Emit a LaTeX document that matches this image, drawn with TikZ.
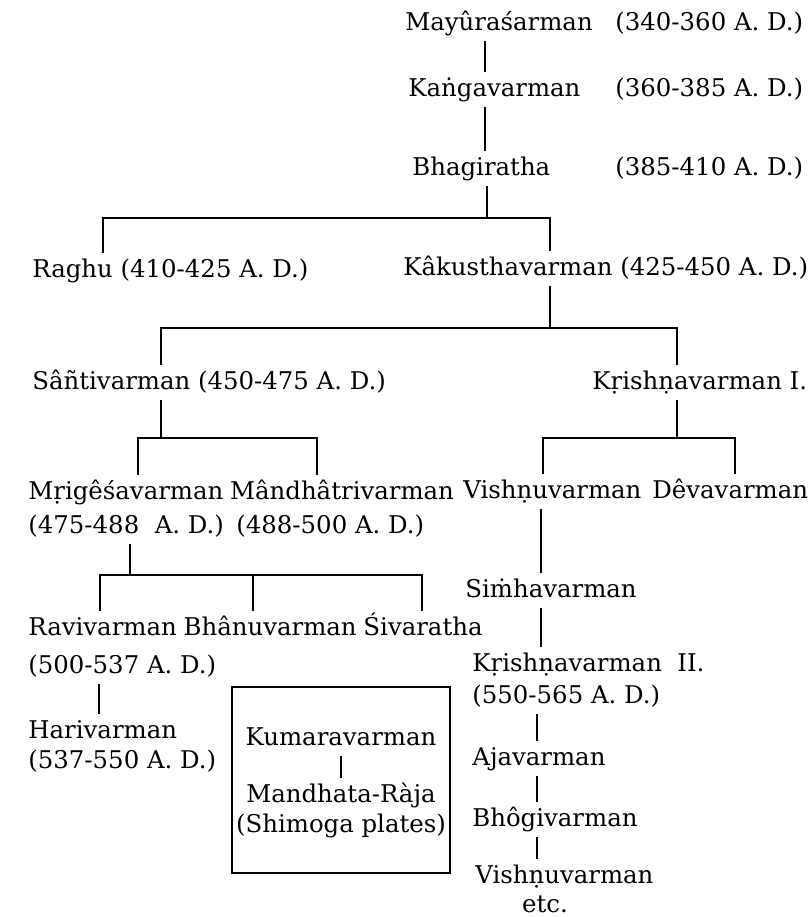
\documentclass[tikz,border=0pt]{standalone}
\usepackage{fontspec}
\setmainfont{DejaVu Serif}
\usetikzlibrary{calc}

\tikzset{
  ruler/.style={anchor=base west, inner xsep=0pt, inner ysep=3pt, text height=9pt, text depth=2.5pt, font=\fontsize{12.2}{14}\selectfont},
  rulerc/.style={ruler, anchor=base},
  lineage/.style={line width=1.1pt},
}

\begin{document}
\begin{tikzpicture}[x=0.5pt, y=-0.5pt]
			\useasboundingbox (0,0) rectangle (811,917);
			
			%%%%% NAMES %%%%%
			\node[ruler] (mayura) at (405,30) {Mayûraśarman};
			\node[ruler] (mayuraD) at (615,30) {(340-360 A. D.)};
			\node[ruler] (kanga) at (408,96) {Kaṅgavarman};
			\node[ruler] (kangaD) at (615,96) {(360-385 A. D.)};
			\node[ruler] (bhag) at (412,175) {Bhagiratha};
			\node[ruler] (bhagD) at (615,175) {(385-410 A. D.)};
			
			\node[ruler] (raghu) at (32,277) {Raghu (410-425 A. D.)};
			\node[ruler] (kaku) at (403,275) {Kâkusthavarman (425-450 A. D.)};
			
			\node[ruler] (santi) at (32,389) {Sâñtivarman (450-475 A. D.)};
			\node[ruler] (krishnaA) at (592,389) {Kṛishṇavarman I.};
			
			\node[ruler] (mrige) at (28,499) {Mṛigêśavarman};
			\node[ruler, xshift=3pt] (mandha) at (mrige.base east) {Mândhâtrivarman};
			\node[ruler] (mrigeD) at (28,533) {(475-488~ A. D.)};
			\node[ruler] (mandhaD) at (236,533) {(488-500 A. D.)};
			\node[ruler] (vishnuA) at (463,498) {Vishṇuvarman};
			\node[ruler] (deva) at (652,498) {Dêvavarman};
			
			\node[ruler] (simha) at (465,597) {Siṁhavarman};
			
			\node[ruler] (ravi) at (28,635) {Ravivarman};
			\node[ruler, xshift=3pt] (bhanu) at (ravi.base east) {Bhânuvarman};
			\node[ruler, xshift=3pt] (siva) at (bhanu.base east) {Śivaratha};
			\node[ruler] (raviD) at (28,673) {(500-537 A. D.)};
			\node[ruler] (hari) at (28,738) {Harivarman};
			\node[ruler] (hariD) at (28,768) {(537-550 A. D.)};
			
			\node[ruler] (krishnaB) at (472,671) {Kṛishṇavarman~ II.};
			\node[ruler] (krishnaBD) at (472,703) {(550-565 A. D.)};
			\node[ruler] (aja) at (472,765) {Ajavarman};
			\node[ruler] (bhogi) at (472,826) {Bhôgivarman};
			\node[ruler] (vishnuB) at (475,883) {Vishṇuvarman};
			\node[rulerc] (etc) at (545,912) {etc.};
			
			%%%%% SHIMOGA BOX %%%%%
			\draw[lineage] (232,687) rectangle (450,873);
			\node[rulerc] (kumara) at (341,745) {Kumaravarman};
			\node[rulerc] (mandhata) at (341,802) {Mandhata-Ràja};
			\node[rulerc] (shimoga) at (341,832) {(Shimoga plates)};
			\coordinate (jk) at (341,0);
			\draw[lineage] (jk |- kumara.south) -- (jk |- mandhata.north);
			
			%%%%% TOP LINE %%%%%
			\coordinate (j0) at (485,0);
			\draw[lineage] (j0 |- mayura.south) -- (j0 |- kanga.north);
			\draw[lineage] (j0 |- kanga.south) -- (j0 |- bhag.north);
			
			\coordinate (b1) at (487,218);
			\coordinate (b1l) at (103,218);
			\coordinate (b1r) at (550,218);
			\draw[lineage] (b1 |- bhag.south) -- (b1);
			\draw[lineage] (b1l |- raghu.north) -- (b1l) -- (b1r) -- (b1r |- kaku.north);
			
			\coordinate (b2) at (550,328);
			\coordinate (b2l) at (161,328);
			\coordinate (b2r) at (677,328);
			\draw[lineage] (b2 |- kaku.south) -- (b2);
			\draw[lineage] (b2l |- santi.north) -- (b2l) -- (b2r) -- (b2r |- krishnaA.north);
			
			%%%%% SANTIVARMAN %%%%%
			\coordinate (b3) at (161,438);
			\coordinate (b3l) at (138,438);
			\coordinate (b3r) at (317,438);
			\draw[lineage] (b3 |- santi.south) -- (b3);
			\draw[lineage] (b3l |- mrige.north) -- (b3l) -- (b3r) -- (b3r |- mandha.north);
			
			\coordinate (b5) at (130,575);
			\coordinate (b5l) at (100,575);
			\coordinate (b5m) at (253,575);
			\coordinate (b5r) at (422,575);
			\draw[lineage] (b5 |- mrigeD.south) -- (b5);
			\draw[lineage] (b5l |- ravi.north) -- (b5l) -- (b5r) -- (b5r |- siva.north);
			\draw[lineage] (b5m) -- (b5m |- bhanu.north);
			
			\coordinate (j3) at (99,0);
			\draw[lineage] (j3 |- raviD.south) -- (j3 |- hari.north);
			
			%%%%% KRISHNAVARMAN %%%%%
			\coordinate (b4) at (677,438);
			\coordinate (b4l) at (543,438);
			\coordinate (b4r) at (735,438);
			\draw[lineage] (b4 |- krishnaA.south) -- (b4);
			\draw[lineage] (b4l |- vishnuA.north) -- (b4l) -- (b4r) -- (b4r |- deva.north);
			
			\coordinate (j1) at (541,0);
			\coordinate (j2) at (537,0);
			\draw[lineage] (j1 |- vishnuA.south) -- (j1 |- simha.north);
			\draw[lineage] (j1 |- simha.south) -- (j1 |- krishnaB.north);
			\draw[lineage] (j2 |- krishnaBD.south) -- (j2 |- aja.north);
			\draw[lineage] (j2 |- aja.south) -- (j2 |- bhogi.north);
			\draw[lineage] (j2 |- bhogi.south) -- (j2 |- vishnuB.north);
			
\end{tikzpicture}
\end{document}
